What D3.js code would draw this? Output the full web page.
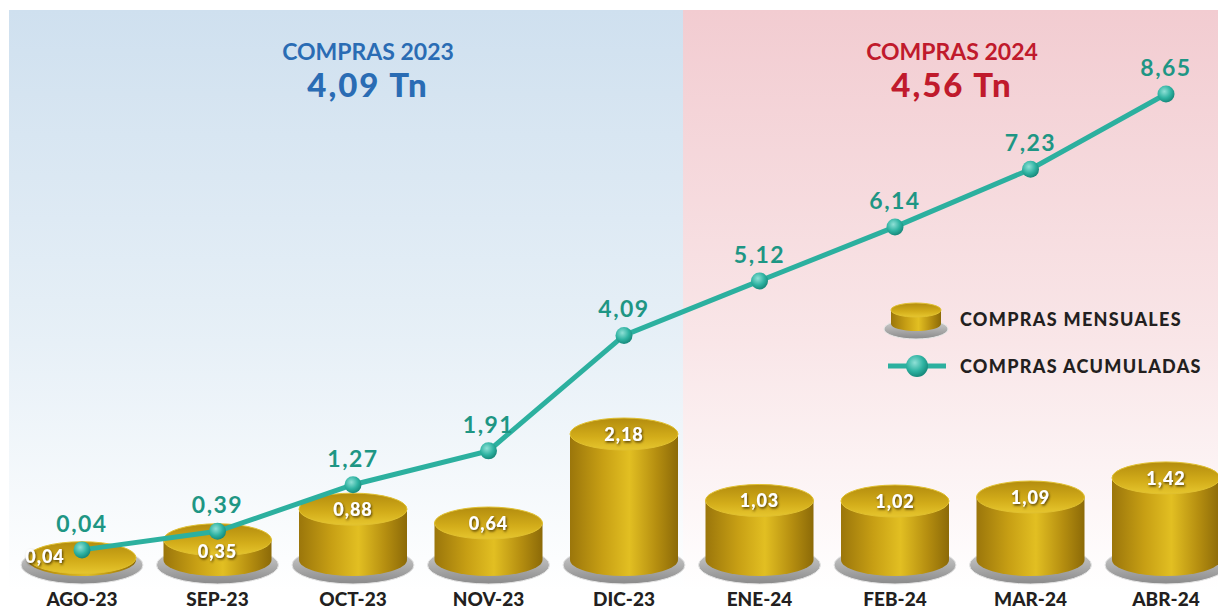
<!DOCTYPE html>
<html>
<head>
<meta charset="utf-8">
<script src="https://cdn.jsdelivr.net/npm/d3@7"></script>
<style>
  body { margin: 0; background: #fff; }
  svg { display: block; font-family: Lato, "Open Sans", sans-serif; }
</style>
</head>
<body>
<svg id="chart" width="1218" height="615"></svg>
<script>
// data
const months = ["AGO-23", "SEP-23", "OCT-23", "NOV-23", "DIC-23", "ENE-24", "FEB-24", "MAR-24", "ABR-24"];
const mensual = [0.04, 0.35, 0.88, 0.64, 2.18, 1.03, 1.02, 1.09, 1.42];
const acumulado = [0.04, 0.39, 1.27, 1.91, 4.09, 5.12, 6.14, 7.23, 8.65];
const totals = [
  {label: "COMPRAS 2023", value: "4,09 Tn"},
  {label: "COMPRAS 2024", value: "4,56 Tn"}
];
const legendLabels = ["COMPRAS MENSUALES", "COMPRAS ACUMULADAS"];

const fmt = v => v.toFixed(2).replace(".", ",");

const svg = d3.select("#chart");
const W = 1218, H = 615;
const defs = svg.append("defs");

// background gradients
function vGrad(id, top) {
  let g = defs.append("linearGradient").attr("id", id)
    .attr("x1", 0).attr("y1", 0).attr("x2", 0).attr("y2", 1);
  g.append("stop").attr("offset", "0%").attr("stop-color", top);
  g.append("stop").attr("offset", "55%").attr("stop-color", d3.interpolateRgb(top, "#ffffff")(0.5));
  g.append("stop").attr("offset", "96%").attr("stop-color", "#ffffff");
}
vGrad("bgBlue", "#cfe0ef");
vGrad("bgPink", "#f2ccd1");

// gold body gradient
let gb = defs.append("linearGradient").attr("id", "goldBody")
  .attr("x1", 0).attr("y1", 0).attr("x2", 1).attr("y2", 0);
gb.append("stop").attr("offset", "0%").attr("stop-color", "#9b760b");
gb.append("stop").attr("offset", "30%").attr("stop-color", "#c79f14");
gb.append("stop").attr("offset", "55%").attr("stop-color", "#e2bf22");
gb.append("stop").attr("offset", "80%").attr("stop-color", "#b58e10");
gb.append("stop").attr("offset", "100%").attr("stop-color", "#8c6a08");

let gt = defs.append("linearGradient").attr("id", "goldTop")
  .attr("x1", 0).attr("y1", 0).attr("x2", 0).attr("y2", 1);
gt.append("stop").attr("offset", "0%").attr("stop-color", "#b38c0e");
gt.append("stop").attr("offset", "60%").attr("stop-color", "#d3ad1a");
gt.append("stop").attr("offset", "100%").attr("stop-color", "#e6c62e");

let gp = defs.append("linearGradient").attr("id", "plate")
  .attr("x1", 0).attr("y1", 0).attr("x2", 0).attr("y2", 1);
gp.append("stop").attr("offset", "0%").attr("stop-color", "#d8d8d8");
gp.append("stop").attr("offset", "60%").attr("stop-color", "#a8a8a8");
gp.append("stop").attr("offset", "100%").attr("stop-color", "#8a8a8a");

let gc = defs.append("radialGradient").attr("id", "dot")
  .attr("cx", "40%").attr("cy", "35%").attr("r", "65%");
gc.append("stop").attr("offset", "0%").attr("stop-color", "#8fe0d6");
gc.append("stop").attr("offset", "60%").attr("stop-color", "#2fb3a2");
gc.append("stop").attr("offset", "100%").attr("stop-color", "#178a7c");

let sh = defs.append("filter").attr("id", "txtShadow")
  .attr("x", "-20%").attr("y", "-20%").attr("width", "140%").attr("height", "150%");
sh.append("feDropShadow").attr("dx", 1).attr("dy", 1.5).attr("stdDeviation", 1)
  .attr("flood-color", "#4a3500").attr("flood-opacity", 0.9);

// panels
svg.append("rect").attr("x", 9).attr("y", 10).attr("width", 674).attr("height", H - 10).attr("fill", "url(#bgBlue)");
svg.append("rect").attr("x", 683).attr("y", 10).attr("width", W - 683).attr("height", H - 10).attr("fill", "url(#bgPink)");

// scales
const x = d3.scalePoint().domain(months).range([82, 1166]);
const base = 560;
const yBar = d3.scaleLinear().domain([0, 2.18]).range([base, 434]);
const yLine = d3.scaleLinear().domain([0, 8.65]).range([552, 94]);

// titles
const titleX = [368, 952];
const titleColor = ["#2a6cb4", "#c01a2c"];
totals.forEach((t, i) => {
  svg.append("text").attr("x", titleX[i]).attr("y", 60).attr("text-anchor", "middle")
    .attr("font-size", 23).attr("font-weight", 700).attr("fill", titleColor[i]).text(t.label);
  svg.append("text").attr("x", titleX[i]).attr("y", 97).attr("text-anchor", "middle")
    .attr("font-size", 33).attr("font-weight", 900).attr("letter-spacing", 2)
    .attr("fill", titleColor[i]).text(t.value);
});

// cylinders
const rx = 54, ry = 16;
function cylinder(g, cx, top, bottom, rX, rY) {
  g.append("ellipse").attr("cx", cx).attr("cy", bottom + 5).attr("rx", rX + 7).attr("ry", rY + 3)
    .attr("fill", "url(#plate)").attr("stroke", "#e6e6e6").attr("stroke-width", 1);
  g.append("path")
    .attr("d", `M${cx - rX},${top} L${cx - rX},${bottom} A${rX},${rY} 0 0 0 ${cx + rX},${bottom} L${cx + rX},${top} Z`)
    .attr("fill", "url(#goldBody)");
  g.append("ellipse").attr("cx", cx).attr("cy", top).attr("rx", rX).attr("ry", rY)
    .attr("fill", "url(#goldTop)").attr("stroke", "#e0c030").attr("stroke-width", 1);
}

const bars = svg.append("g");
months.forEach((m, i) => {
  cylinder(bars.append("g"), x(m), yBar(mensual[i]), base, rx, ry);
});

// line
const line = d3.line().x((d, i) => x(months[i])).y(d => yLine(d));
svg.append("path").attr("d", line(acumulado)).attr("fill", "none")
  .attr("stroke", "#2cb09f").attr("stroke-width", 5);

// bar labels: pushed down below the marker if it sits on them, or left if there is no room
months.forEach((m, i) => {
  let lx = x(m), ly = yBar(mensual[i]) + 7;
  let dotBottom = yLine(acumulado[i]) + 8.5;
  if (dotBottom > ly - 12) {
    if (dotBottom + 18 <= base + 2) ly = dotBottom + 18;
    else { lx -= 37; ly = base + 3; }
  }
  svg.append("text").attr("x", lx).attr("y", ly).attr("text-anchor", "middle")
    .attr("font-size", 18).attr("font-weight", 900).attr("letter-spacing", 1)
    .attr("fill", "#fff").attr("filter", "url(#txtShadow)").text(fmt(mensual[i]));
});

// dots and cumulative labels
svg.append("g").selectAll("circle").data(acumulado).join("circle")
  .attr("cx", (d, i) => x(months[i])).attr("cy", d => yLine(d)).attr("r", 8.5)
  .attr("fill", "url(#dot)");
svg.append("g").selectAll("text").data(acumulado).join("text")
  .attr("x", (d, i) => x(months[i])).attr("y", d => yLine(d) - 18)
  .attr("text-anchor", "middle").attr("font-size", 23).attr("font-weight", 700)
  .attr("letter-spacing", 1.5).attr("fill", "#1e9684").text(d => fmt(d));

// x labels
svg.append("g").selectAll("text").data(months).join("text")
  .attr("x", d => x(d)).attr("y", 606).attr("text-anchor", "middle")
  .attr("font-size", 19).attr("font-weight", 900).attr("fill", "#231f20").text(d => d);

// legend
const lg = svg.append("g");
cylinder(lg, 916, 310, 324, 25, 7);
lg.append("line").attr("x1", 888).attr("x2", 946).attr("y1", 366).attr("y2", 366)
  .attr("stroke", "#2cb09f").attr("stroke-width", 5);
lg.append("circle").attr("cx", 917).attr("cy", 366).attr("r", 11).attr("fill", "url(#dot)");
legendLabels.forEach((t, i) => {
  lg.append("text").attr("x", 960).attr("y", 326 + i * 47)
    .attr("font-size", 18).attr("font-weight", 900).attr("letter-spacing", 1.3)
    .attr("fill", "#231f20").text(t);
});
</script>
</body>
</html>
